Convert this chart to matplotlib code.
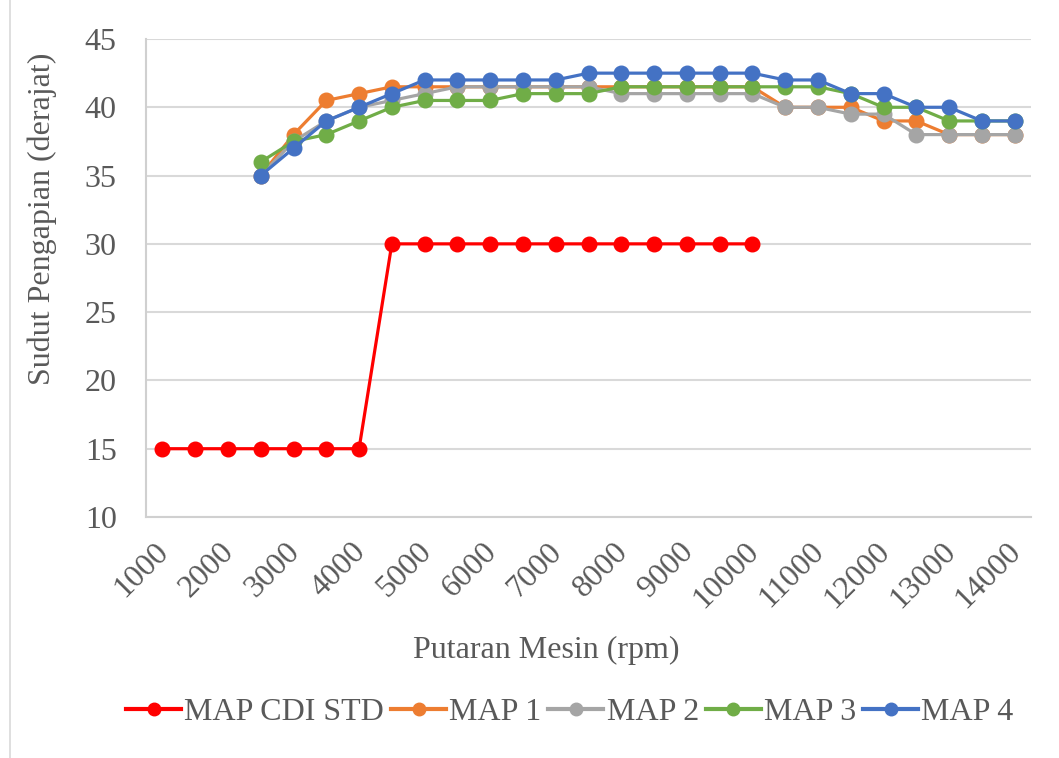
import matplotlib.pyplot as plt
import matplotlib.transforms as mtransforms
import numpy as np
from matplotlib.lines import Line2D

# putaran mesin (rpm), kategori tiap 500
rpm = list(range(1000, 14001, 500))

map_std = [15, 15, 15, 15, 15, 15, 15, 30, 30, 30, 30, 30, 30, 30, 30, 30, 30, 30, 30]
map1 = [None, None, None, 35, 38, 40.5, 41, 41.5, 41.5, 41.5, 41.5, 41.5, 41.5, 41.5,
        41.5, 41.5, 41.5, 41.5, 41.5, 40, 40, 40, 39, 39, 38, 38, 38]
map2 = [None, None, None, 35, 37.5, 39, 40, 40.5, 41, 41.5, 41.5, 41.5, 41.5, 41.5,
        41, 41, 41, 41, 41, 40, 40, 39.5, 39.5, 38, 38, 38, 38]
map3 = [None, None, None, 36, 37.5, 38, 39, 40, 40.5, 40.5, 40.5, 41, 41, 41,
        41.5, 41.5, 41.5, 41.5, 41.5, 41.5, 41.5, 41, 40, 40, 39, 39, 39]
map4 = [None, None, None, 35, 37, 39, 40, 41, 42, 42, 42, 42, 42, 42.5,
        42.5, 42.5, 42.5, 42.5, 42.5, 42, 42, 41, 41, 40, 40, 39, 39]

names = ["MAP CDI STD", "MAP 1", "MAP 2", "MAP 3", "MAP 4"]
colors = ["#FF0000", "#ED7D31", "#A5A5A5", "#70AD47", "#4472C4"]

plt.rcParams['font.family'] = ['Liberation Serif', 'DejaVu Serif']
txt = "#595959"
fs = 23

fig = plt.figure(figsize=(10.59, 7.58), dpi=100)
ax = fig.add_axes([146 / 1059, 1 - 517 / 758, (1031 - 146) / 1059, (517 - 39) / 758])

series = [map_std, map1, map2, map3, map4]
for vals, nm, c in zip(series, names, colors):
    x = np.arange(len(vals))
    y = np.array([np.nan if v is None else v for v in vals], dtype=float)
    ok = ~np.isnan(y)
    ax.plot(x[ok], y[ok], color=c, lw=2.3, marker='o', ms=10.5, label=nm,
            solid_joinstyle='round', zorder=3)

ax.set_xlim(-0.5, len(rpm) - 0.5)
ax.set_ylim(10, 45)
ax.set_yticks(range(10, 46, 5))
ax.set_xticks(range(0, len(rpm), 2))
ax.set_xticklabels([str(r) for r in rpm[::2]], rotation=45, ha='right',
                   va='center', rotation_mode='anchor')
ax.tick_params(axis='both', length=0, labelsize=fs, colors=txt)
ax.tick_params(axis='x', pad=22)
ax.tick_params(axis='y', pad=21)
shift = mtransforms.ScaledTranslation(2 / 100, 0, fig.dpi_scale_trans)
for lb in ax.get_xticklabels():
    lb.set_transform(lb.get_transform() + shift)
ax.grid(axis='y', color='#D9D9D9', lw=1.5)
ax.set_axisbelow(True)
for s in ['top', 'right']:
    ax.spines[s].set_visible(False)
for s in ['left', 'bottom']:
    ax.spines[s].set_color('#D0D0D0')
    ax.spines[s].set_linewidth(1.5)

fig.text(42 / 1059, 1 - 219 / 758, "Sudut Pengapian (derajat)", fontsize=fs, color=txt,
         rotation=90, ha='center', va='center')
fig.text(546 / 1059, 1 - 650 / 758, "Putaran Mesin (rpm)", fontsize=fs, color=txt,
         ha='center', va='center')

handles = [Line2D([], [], color=c, lw=3, marker='o', ms=9) for c in colors]
fig.legend(handles, names, loc='center', bbox_to_anchor=(570 / 1059, 1 - 712 / 758),
           ncol=5, frameon=False, fontsize=fs, labelcolor=txt, handlelength=1.72,
           handletextpad=0.1, columnspacing=0.22)

# garis tepi kiri area chart
fig.add_artist(Line2D([10 / 1059, 10 / 1059], [0, 1], color='#D9D9D9', lw=1.2))

fig.savefig("out.png", dpi=100)
